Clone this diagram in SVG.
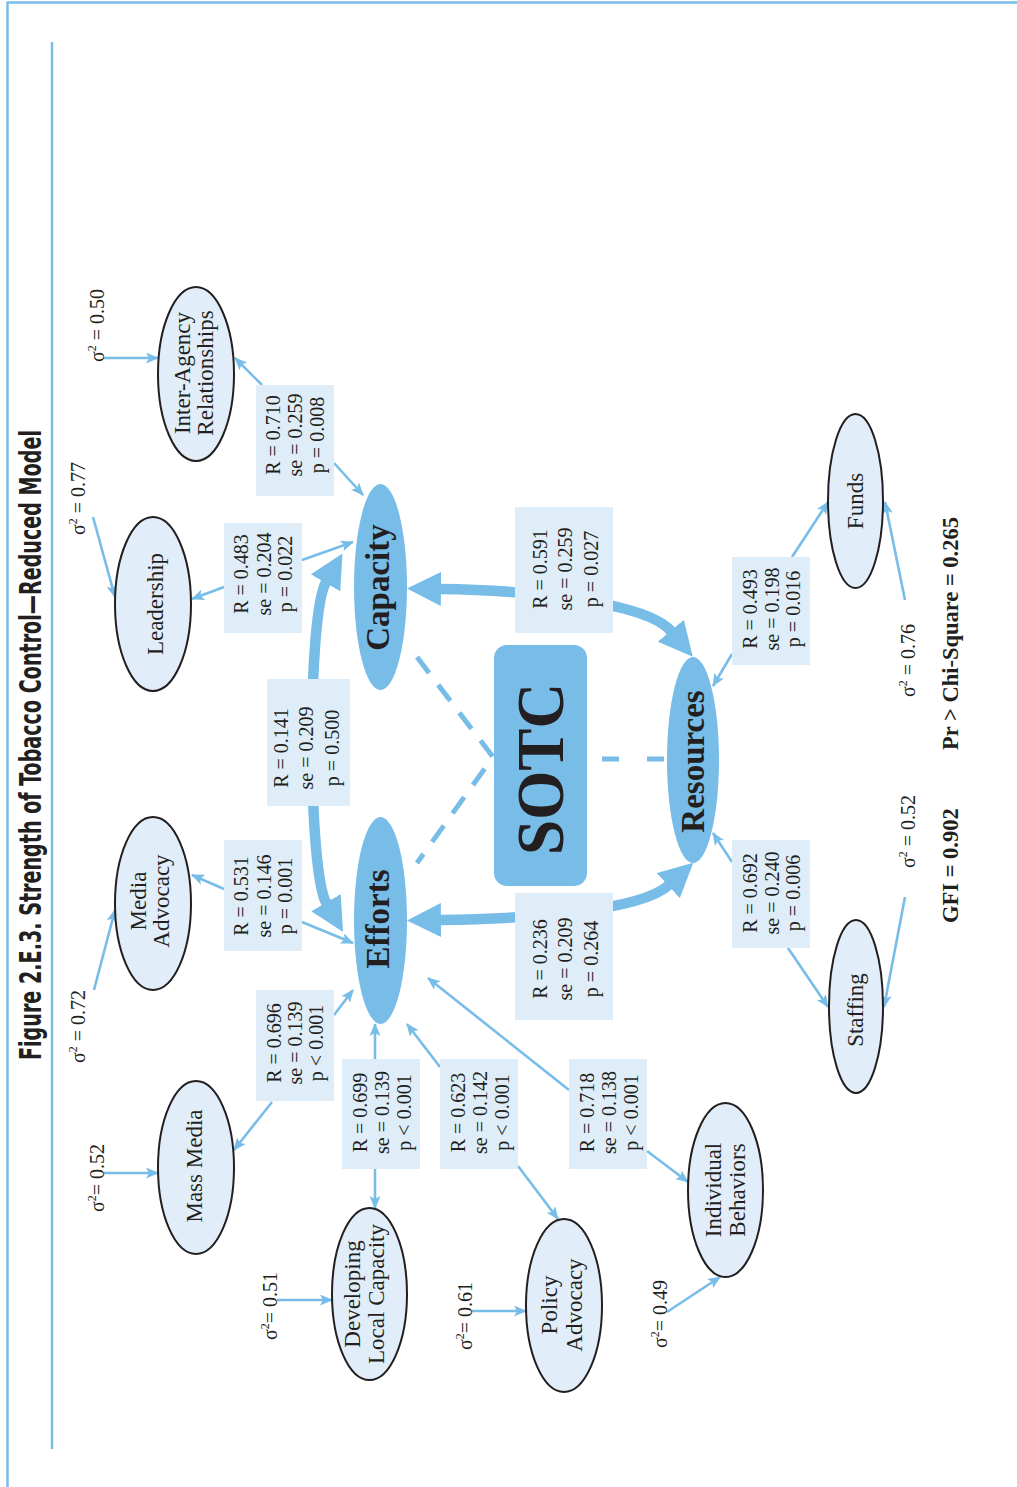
<svg xmlns="http://www.w3.org/2000/svg" width="1017" height="1487" viewBox="0 0 1017 1487">
<style>
.frame{stroke:#78bde8;stroke-width:2.5;fill:none}
.thin{stroke:#78bde8;stroke-width:2.6;fill:none;marker-end:url(#ah)}
.thick{stroke:#78bde8;stroke-width:10.5;fill:none;marker-start:url(#bh);marker-end:url(#bh)}
.dash{stroke:#78bde8;stroke-width:5;fill:none}
.box{fill:#dfedf8}
.ind{fill:#e1eef9;stroke:#231f20;stroke-width:2}
.lat{fill:#78bde8}
.t{font-family:"Liberation Serif","Times New Roman",serif;fill:#231f20}
.lab{font-size:20px;text-anchor:middle}
.var{font-size:20px}
.it{font-size:23px;text-anchor:middle}
.lt{font-size:33px;font-weight:bold;text-anchor:middle}
.fit{font-size:22.5px;font-weight:bold}
.title{font-family:"Liberation Sans Narrow","DejaVu Sans Condensed","Liberation Sans",sans-serif;font-weight:bold;font-size:30.5px;fill:#231f20}
</style>
<defs>
<marker id="ah" viewBox="0 0 13 11" markerWidth="13" markerHeight="11" refX="12" refY="5.5" orient="auto" markerUnits="userSpaceOnUse">
<path d="M0,0 L13,5.5 L0,11 L3,5.5 z" fill="#78bde8"/>
</marker>
<marker id="bh" viewBox="0 0 34 34" markerWidth="34" markerHeight="34" refX="1" refY="17" orient="auto-start-reverse" markerUnits="userSpaceOnUse">
<path d="M0,0 L34,17 L0,34 z" fill="#78bde8"/>
</marker>
</defs>
<g id="frame">
<line class="frame" x1="7.5" y1="2.5" x2="7.5" y2="1487"/>
<line class="frame" x1="6.5" y1="2.5" x2="1017" y2="2.5"/>
<line class="frame" x1="52" y1="42" x2="52" y2="1449"/>
</g>
<g id="diagram" transform="translate(0,1487) rotate(-90)">
<text id="title" class="title" x="742" y="41" text-anchor="middle" textLength="630" lengthAdjust="spacingAndGlyphs">Figure 2.E.3. Strength of Tobacco Control—Reduced Model</text>
<g id="connectors">
<path class="dash" d="M830,417 L730,493 L624,417" stroke-dasharray="20 15"/>
<path class="dash" d="M728,602 L728,667" stroke-dasharray="17 28"/>
<path class="thick" d="M905,326 C872,307 616.5,307.4 583.5,326.5"/>
<path class="thick" d="M898,440 C897,520 886.3,645.5 855.5,671.5"/>
<path class="thick" d="M567,440 C568,520 575,639.6 602,669"/>
<line class="thin" x1="1102" y1="262" x2="1129" y2="235"/>
<line class="thin" x1="1024" y1="334" x2="992" y2="363"/>
<line class="thin" x1="900" y1="224" x2="888" y2="192"/>
<line class="thin" x1="927" y1="302" x2="945" y2="353"/>
<line class="thin" x1="598" y1="224" x2="612" y2="192"/>
<line class="thin" x1="565" y1="302" x2="544" y2="353"/>
<line class="thin" x1="385" y1="272" x2="337" y2="234"/>
<line class="thin" x1="472" y1="334" x2="497" y2="353"/>
<line class="thin" x1="428" y1="375" x2="463" y2="375"/>
<line class="thin" x1="318" y1="375" x2="279" y2="375"/>
<line class="thin" x1="420" y1="440" x2="463" y2="407"/>
<line class="thin" x1="321" y1="518" x2="268" y2="558"/>
<line class="thin" x1="397" y1="569" x2="509" y2="428"/>
<line class="thin" x1="336" y1="647" x2="305" y2="688"/>
<line class="thin" x1="833" y1="732" x2="801" y2="713"/>
<line class="thin" x1="930" y1="792" x2="985" y2="828"/>
<line class="thin" x1="625" y1="732" x2="654" y2="713"/>
<line class="thin" x1="539" y1="788" x2="480" y2="828"/>
<line class="thin" x1="1129" y1="104" x2="1129" y2="158"/>
<line class="thin" x1="970" y1="93" x2="890" y2="115"/>
<line class="thin" x1="497" y1="94" x2="577" y2="115"/>
<line class="thin" x1="314" y1="104" x2="314" y2="158"/>
<line class="thin" x1="187" y1="277" x2="187" y2="332"/>
<line class="thin" x1="176" y1="472" x2="176" y2="526"/>
<line class="thin" x1="175" y1="667" x2="210" y2="720"/>
<line class="thin" x1="887" y1="905" x2="985" y2="885"/>
<line class="thin" x1="590" y1="905" x2="480" y2="884"/>
</g>
<g id="labels">
<g id="lab-ia"><rect class="box" x="991" y="256" width="111" height="78"/><text class="t lab" x="1052"><tspan x="1052" y="280">R = 0.710</tspan><tspan x="1052" y="302">se = 0.259</tspan><tspan x="1052" y="324">p = 0.008</tspan></text></g>
<g id="lab-ld"><rect class="box" x="854" y="224" width="110" height="78"/><text class="t lab"><tspan x="913" y="248">R = 0.483</tspan><tspan x="913" y="271">se = 0.204</tspan><tspan x="913" y="292">p = 0.022</tspan></text></g>
<g id="lab-ce"><rect class="box" x="681" y="267" width="127" height="83"/><text class="t lab"><tspan x="739" y="288">R = 0.141</tspan><tspan x="739" y="313">se = 0.209</tspan><tspan x="739" y="339">p = 0.500</tspan></text></g>
<g id="lab-ma"><rect class="box" x="536" y="224" width="111" height="78"/><text class="t lab"><tspan x="591" y="248">R = 0.531</tspan><tspan x="591" y="271">se = 0.146</tspan><tspan x="591" y="292">p = 0.001</tspan></text></g>
<g id="lab-mm"><rect class="box" x="386" y="256" width="111" height="78"/><text class="t lab"><tspan x="444" y="281">R = 0.696</tspan><tspan x="444" y="302">se = 0.139</tspan><tspan x="444" y="323">p &lt; 0.001</tspan></text></g>
<g id="lab-dl"><rect class="box" x="318" y="342" width="110" height="78"/><text class="t lab"><tspan x="374.5" y="367">R = 0.699</tspan><tspan x="374.5" y="389">se = 0.139</tspan><tspan x="374.5" y="411">p &lt; 0.001</tspan></text></g>
<g id="lab-pa"><rect class="box" x="318" y="440" width="110" height="78"/><text class="t lab"><tspan x="374.5" y="465">R = 0.623</tspan><tspan x="374.5" y="487">se = 0.142</tspan><tspan x="374.5" y="509">p &lt; 0.001</tspan></text></g>
<g id="lab-ib"><rect class="box" x="318" y="569" width="110" height="78"/><text class="t lab"><tspan x="374.5" y="594">R = 0.718</tspan><tspan x="374.5" y="616">se = 0.138</tspan><tspan x="374.5" y="638">p &lt; 0.001</tspan></text></g>
<g id="lab-cr"><rect class="box" x="854" y="515" width="126" height="98"/><text class="t lab"><tspan x="918" y="547">R = 0.591</tspan><tspan x="918" y="572">se = 0.259</tspan><tspan x="918" y="598">p = 0.027</tspan></text></g>
<g id="lab-er"><rect class="box" x="467" y="515" width="127" height="98"/><text class="t lab"><tspan x="528" y="547">R = 0.236</tspan><tspan x="528" y="572">se = 0.209</tspan><tspan x="528" y="598">p = 0.264</tspan></text></g>
<g id="lab-fu"><rect class="box" x="822" y="732" width="108" height="78"/><text class="t lab"><tspan x="878" y="757">R = 0.493</tspan><tspan x="878" y="779">se = 0.198</tspan><tspan x="878" y="800">p = 0.016</tspan></text></g>
<g id="lab-st"><rect class="box" x="539" y="732" width="108" height="78"/><text class="t lab"><tspan x="594" y="757">R = 0.692</tspan><tspan x="594" y="779">se = 0.240</tspan><tspan x="594" y="800">p = 0.006</tspan></text></g>
</g>
<g id="variances">
<text class="t var" x="1125" y="104">σ<tspan font-size="12" dy="-8">2</tspan><tspan dy="8"> = 0.50</tspan></text>
<text class="t var" x="952" y="85">σ<tspan font-size="12" dy="-8">2</tspan><tspan dy="8"> = 0.77</tspan></text>
<text class="t var" x="424" y="85">σ<tspan font-size="12" dy="-8">2</tspan><tspan dy="8"> = 0.72</tspan></text>
<text class="t var" x="275" y="104">σ<tspan font-size="12" dy="-8">2</tspan><tspan dy="8">= 0.52</tspan></text>
<text class="t var" x="147" y="277">σ<tspan font-size="12" dy="-8">2</tspan><tspan dy="8">= 0.51</tspan></text>
<text class="t var" x="137" y="472">σ<tspan font-size="12" dy="-8">2</tspan><tspan dy="8">= 0.61</tspan></text>
<text class="t var" x="139" y="667">σ<tspan font-size="12" dy="-8">2</tspan><tspan dy="8">= 0.49</tspan></text>
<text class="t var" x="790" y="915">σ<tspan font-size="12" dy="-8">2</tspan><tspan dy="8"> = 0.76</tspan></text>
<text class="t var" x="619" y="915">σ<tspan font-size="12" dy="-8">2</tspan><tspan dy="8"> = 0.52</tspan></text>
</g>
<g id="sotc"><rect x="601" y="494" width="241" height="93" rx="13" fill="#78bde8"/><text class="t" x="718" y="563" font-size="68" font-weight="bold" text-anchor="middle" textLength="172" lengthAdjust="spacingAndGlyphs">SOTC</text></g>
<g id="capacity"><ellipse class="lat" cx="900" cy="380.5" rx="103" ry="26.5"/><text class="t lt" x="899.5" y="389">Capacity</text></g>
<g id="efforts"><ellipse class="lat" cx="566.5" cy="380.5" rx="103.5" ry="26.5"/><text class="t lt" x="568" y="389">Efforts</text></g>
<g id="resources"><ellipse class="lat" cx="727" cy="693" rx="103" ry="26"/><text class="t lt" x="725.5" y="704">Resources</text></g>
<g id="inter-agency"><ellipse class="ind" cx="1113" cy="196" rx="87" ry="38"/><text class="t it"><tspan x="1114" y="190">Inter-Agency</tspan><tspan x="1114" y="213">Relationships</tspan></text></g>
<g id="leadership"><ellipse class="ind" cx="883" cy="153" rx="87" ry="38"/><text class="t it" x="883" y="163">Leadership</text></g>
<g id="media-advocacy"><ellipse class="ind" cx="583.5" cy="153" rx="86.5" ry="38"/><text class="t it"><tspan x="586" y="146">Media</tspan><tspan x="586" y="169">Advocacy</tspan></text></g>
<g id="mass-media"><ellipse class="ind" cx="319.5" cy="196" rx="86.5" ry="38"/><text class="t it" x="321" y="202">Mass Media</text></g>
<g id="developing"><ellipse class="ind" cx="193" cy="369.5" rx="86" ry="37.5"/><text class="t it"><tspan x="193" y="360">Developing</tspan><tspan x="193" y="384">Local Capacity</tspan></text></g>
<g id="policy-advocacy"><ellipse class="ind" cx="181.5" cy="564" rx="86.5" ry="38"/><text class="t it"><tspan x="182" y="557">Policy</tspan><tspan x="182" y="582">Advocacy</tspan></text></g>
<g id="individual"><ellipse class="ind" cx="297" cy="725.5" rx="87" ry="37.5"/><text class="t it"><tspan x="297" y="721">Individual</tspan><tspan x="297" y="745">Behaviors</tspan></text></g>
<g id="funds"><ellipse class="ind" cx="986" cy="855.5" rx="87" ry="27.5"/><text class="t it" x="986" y="863">Funds</text></g>
<g id="staffing"><ellipse class="ind" cx="480.5" cy="856" rx="86.5" ry="27"/><text class="t it" x="477" y="863">Staffing</text></g>
<g id="fit">
<text class="t fit" x="564" y="958">GFI = 0.902</text>
<text class="t fit" x="737" y="958">Pr &gt; Chi-Square = 0.265</text>
</g>
</g>
</svg>
